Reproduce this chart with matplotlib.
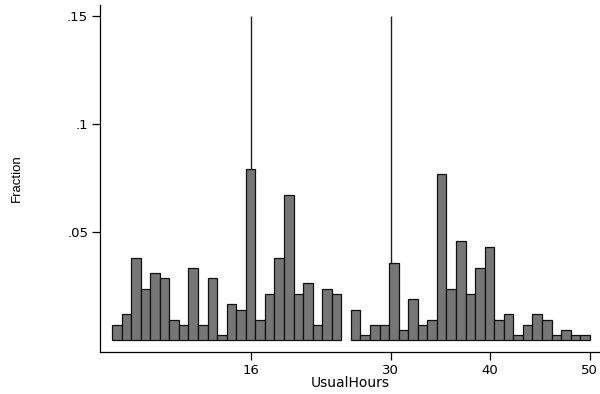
import numpy as np
import matplotlib
matplotlib.use('Agg')
import matplotlib.pyplot as plt

# histogram of UsualHours, 50 bins between min and max
x_min = 2
x_max = 50
n_bins = 50
fraction = [0.0068, 0.0119, 0.0381, 0.0238, 0.0310, 0.0289, 0.0094, 0.0068, 0.0335, 0.0068,
            0.0289, 0.0022, 0.0165, 0.0141, 0.0793, 0.0094, 0.0212, 0.0381, 0.0673, 0.0212,
            0.0264, 0.0068, 0.0238, 0.0212, 0.0, 0.0141, 0.0022, 0.0068, 0.0068, 0.0357,
            0.0045, 0.0188, 0.0068, 0.0094, 0.0767, 0.0238, 0.0457, 0.0212, 0.0335, 0.0432,
            0.0094, 0.0119, 0.0022, 0.0068, 0.0119, 0.0094, 0.0022, 0.0045, 0.0022, 0.0022]
ref_lines = [16, 30]
x_ticks = [16, 30, 40, 50]
y_ticks = [0.05, 0.1, 0.15]
y_ticklabels = ['.05', '.1', '.15']

plt.rcParams['font.family'] = ['DejaVu Sans']

fig = plt.figure(figsize=(6, 3.94), dpi=100)
ax = fig.add_axes([0.1667, 0.1066, 0.8333, 0.8807])

edges = np.linspace(x_min, x_max, n_bins + 1)
width = edges[1] - edges[0]
heights = np.array(fraction)
mask = heights > 0
ax.vlines(ref_lines, 0, 0.15, color='#222222', linewidth=1.0, zorder=1)
ax.bar(edges[:-1][mask], heights[mask], width=width, align='edge',
       color='#767676', edgecolor='#111111', linewidth=0.9, zorder=2)

ax.set_xlim(0.8, 51.03)
ax.set_ylim(-0.00555, 0.155)
ax.set_xticks(x_ticks)
ax.set_yticks(y_ticks)
ax.set_yticklabels(y_ticklabels)
ax.tick_params(direction='out', length=6, width=0.9, labelsize=9.5, pad=2.5)
for s in ['top', 'right']:
    ax.spines[s].set_visible(False)
for s in ['left', 'bottom']:
    ax.spines[s].set_linewidth(0.9)

ax.set_xlabel('UsualHours', fontsize=10)
ax.set_ylabel('Fraction', fontsize=9.5, family='Liberation Sans')
ax.xaxis.set_label_coords(0.5, -0.068)
ax.yaxis.set_label_coords(-0.155, 0.5)

fig.savefig('out.png', dpi=100)
